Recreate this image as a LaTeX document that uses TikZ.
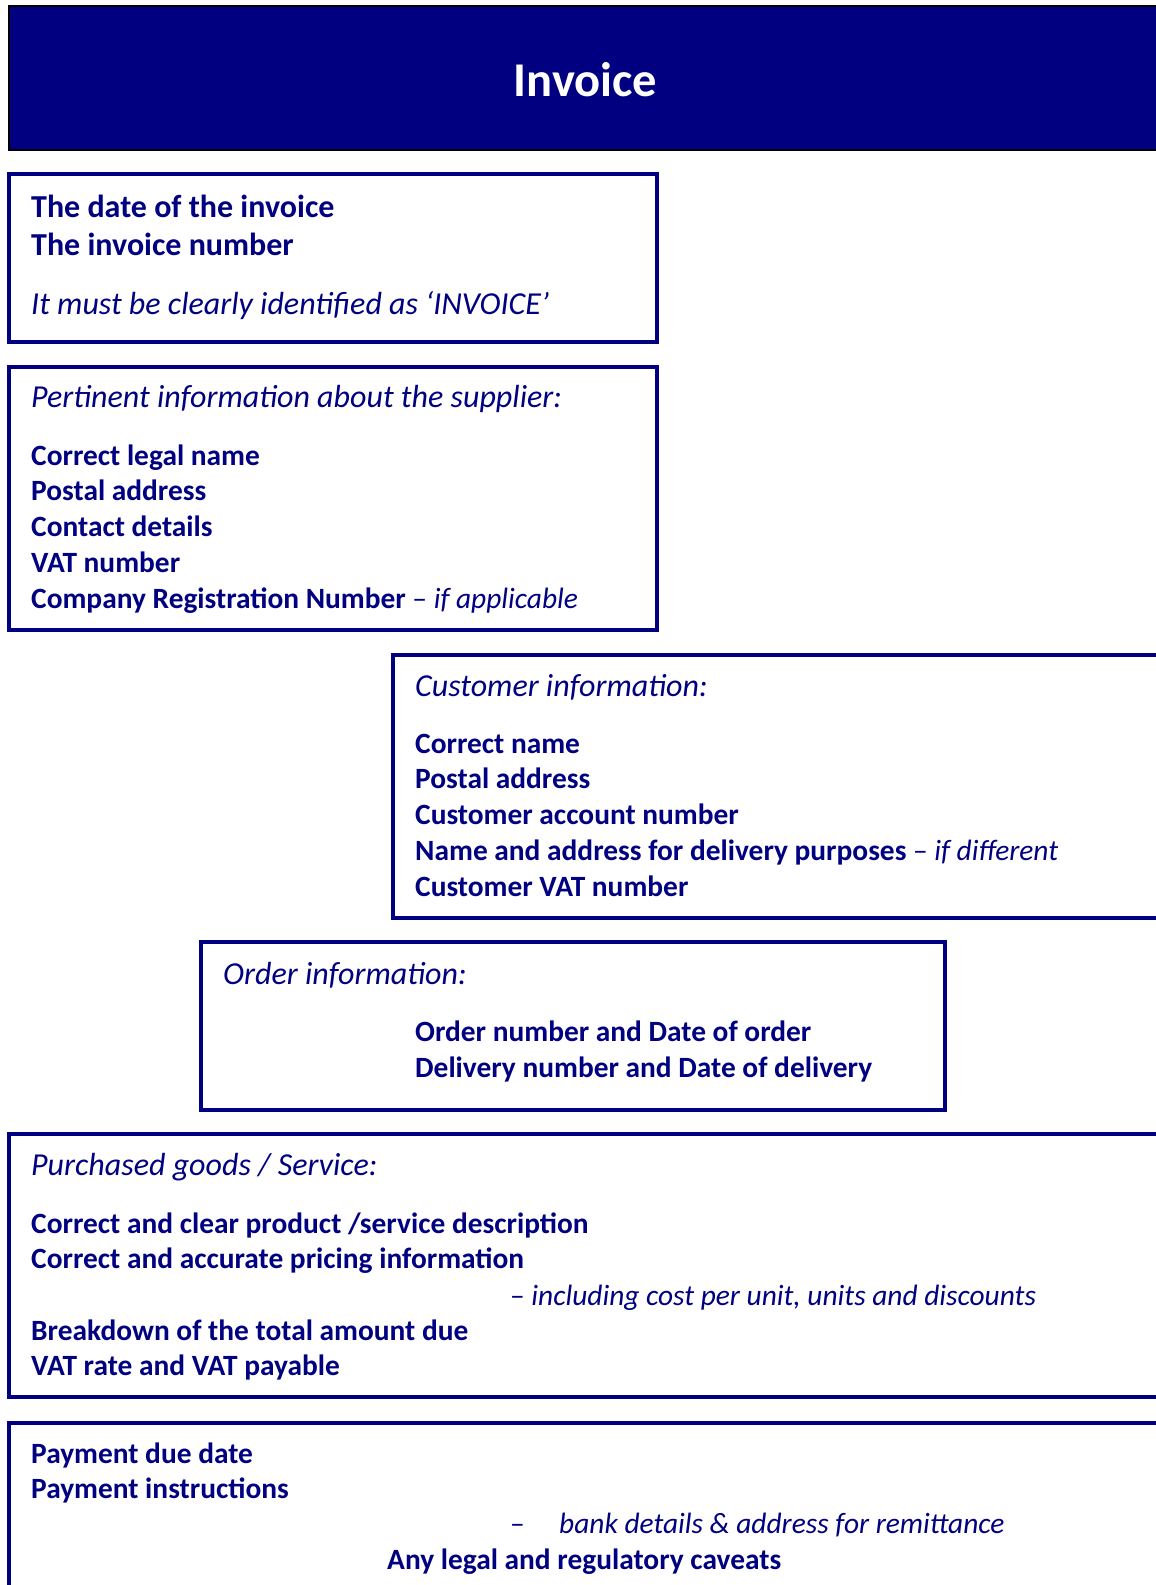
\documentclass[tikz,border=0pt]{standalone}
\usepackage{fontspec}
\setmainfont{Carlito}
\definecolor{navy}{HTML}{000080}
\newcommand{\itemsize}{\fontsize{29.4}{35}\selectfont}
\newcommand{\headsize}{\fontsize{32}{38}\selectfont}
\begin{document}
\begin{tikzpicture}[x=1pt,y=-1pt,
  frame/.style={draw=navy,line width=4pt},
  txt/.style={anchor=base west,inner sep=0pt,text=navy,font=\itemsize,yshift=-1.5pt},
  bf/.style={txt,font=\itemsize\bfseries},
  it/.style={txt,font=\itemsize\itshape},
  hbf/.style={txt,font=\headsize\bfseries},
  hit/.style={txt,font=\headsize\itshape}]
\useasboundingbox (0,0) rectangle (1156,1585);

% title banner
\draw[fill=navy,draw=black,line width=2pt] (9,6) rectangle (1175,149.5);
\node[anchor=base,inner sep=0pt,text=white,font=\fontsize{48.5}{55}\selectfont\bfseries] (title) at (585.6,96) {Invoice};

% invoice identification
\draw[frame] (9,174) rectangle (657,341.5);
\node[hbf] (date) at (31,215.5) {The date of the invoice};
\node[hbf] (num) at (31,254.3) {The invoice number};
\node[hit] (ident) at (31,313) {It must be clearly identified as ‘INVOICE’};

% supplier
\draw[frame] (9,367) rectangle (657,629.5);
\node[hit] (suphead) at (31,406.2) {Pertinent information about the supplier:};
\node[bf] (sup1) at (31,463.7) {Correct legal name};
\node[bf] (sup2) at (31,499.4) {Postal address};
\node[bf] (sup3) at (31,535.1) {Contact details};
\node[bf] (sup4) at (31,570.8) {VAT number};
\node[txt] (sup5) at (31,606.5) {\textbf{Company Registration Number} – \textit{if applicable}};

% customer
\draw[frame] (393,655) rectangle (1175,917.5);
\node[hit] (cushead) at (415,695) {Customer information:};
\node[bf] (cus1) at (415,751.7) {Correct name};
\node[bf] (cus2) at (415,787.4) {Postal address};
\node[bf] (cus3) at (415,823.1) {Customer account number};
\node[txt] (cus4) at (415,858.8) {\textbf{Name and address for delivery purposes} – \textit{if different}};
\node[bf] (cus5) at (415,894.5) {Customer VAT number};

% order
\draw[frame] (201,942) rectangle (945,1109.7);
\node[hit] (ordhead) at (223,982.5) {Order information:};
\node[bf] (ord1) at (415,1039.8) {Order number and Date of order};
\node[bf] (ord2) at (415,1075.8) {Delivery number and Date of delivery};

% goods / services
\draw[frame] (9,1133.7) rectangle (1175,1397);
\node[hit] (goodhead) at (31,1174.2) {Purchased goods / Service:};
\node[bf] (good1) at (31,1231.8) {Correct and clear product /service description};
\node[bf] (good2) at (31,1267.2) {Correct and accurate pricing information};
\node[txt] (good3) at (510,1303.5) {– \textit{including cost per unit, units and discounts}};
\node[bf] (good4) at (31,1338.9) {Breakdown of the total amount due};
\node[bf] (good5) at (31,1374.3) {VAT rate and VAT payable};

% payment
\draw[frame] (9,1422.5) rectangle (1175,1600);
\node[bf] (pay1) at (31,1461.5) {Payment due date};
\node[bf] (pay2) at (31,1496.7) {Payment instructions};
\node[txt] (pay3dash) at (510,1531.9) {–};
\node[it] (pay3) at (559,1531.9) {bank details \& address for remittance};
\node[bf] (pay4) at (387,1568.3) {Any legal and regulatory caveats};
\end{tikzpicture}
\end{document}
